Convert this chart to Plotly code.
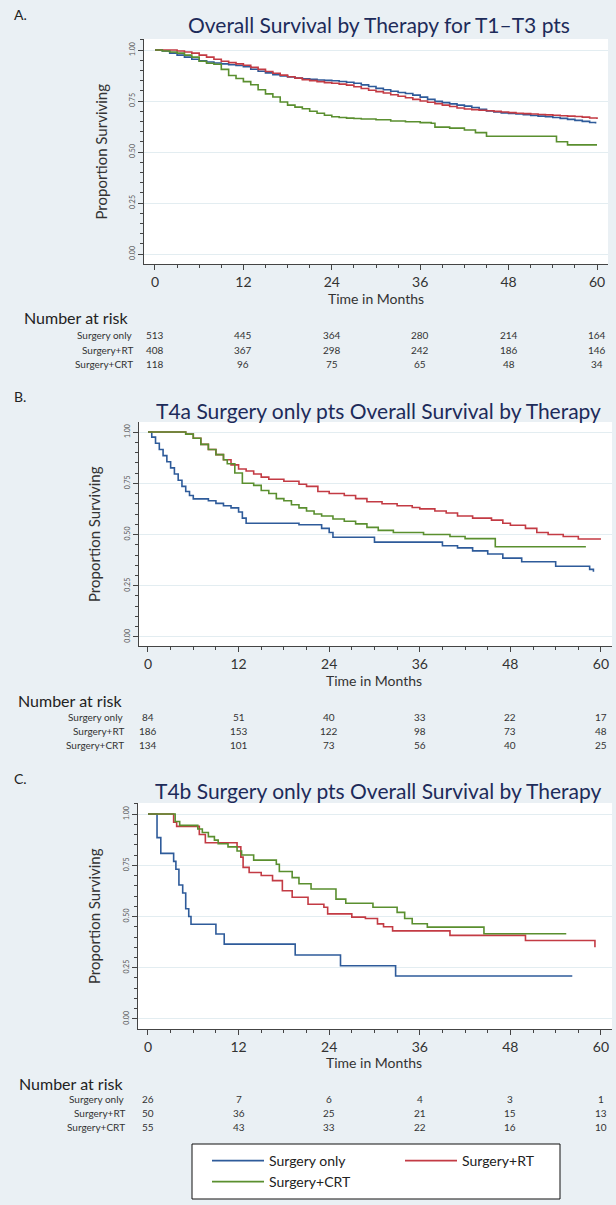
import plotly.graph_objects as go

W, H = 616, 1205

# ---------------- data ----------------
groups = ["Surgery only", "Surgery+RT", "Surgery+CRT"]
colors = ["#2e5b9a", "#c33b44", "#5a8f2f"]
risk_months = [0, 12, 24, 36, 48, 60]

# Panel A: T1-T3
A_only_t = [0, 1, 2, 3, 4, 5, 6, 7, 8, 9, 10, 11, 12, 13, 14, 15, 16, 17, 18, 19, 20, 21, 22, 23, 24, 25, 26, 27, 28, 29, 30,
            31, 32, 33, 34, 35, 36, 37, 38, 39, 40, 41, 42, 43, 44, 45, 46, 47, 48, 49, 50, 51, 52, 53, 54, 55, 56, 57, 58, 59, 59.8]
A_only_s = [1.0, 0.995, 0.985, 0.975, 0.965, 0.955, 0.947, 0.941, 0.936, 0.932, 0.928, 0.924, 0.918, 0.906, 0.896, 0.888,
            0.879, 0.873, 0.868, 0.863, 0.859, 0.856, 0.853, 0.851, 0.849, 0.846, 0.842, 0.837, 0.829, 0.821, 0.812, 0.805,
            0.798, 0.792, 0.787, 0.779, 0.769, 0.758, 0.748, 0.742, 0.736, 0.730, 0.725, 0.718, 0.709, 0.701, 0.696, 0.692,
            0.689, 0.686, 0.683, 0.679, 0.676, 0.673, 0.669, 0.665, 0.660, 0.655, 0.650, 0.645, 0.640]
A_rt_t = [0, 2, 3, 4, 5, 6, 7, 8, 9, 10, 11, 12, 13, 14, 15, 16, 17, 18, 19, 20, 21, 22, 23, 24, 25, 26, 27, 28, 29, 30,
          31, 32, 33, 34, 35, 36, 37, 38, 39, 40, 41, 42, 43, 44, 45, 46, 47, 48, 49, 50, 51, 52, 53, 54, 55, 56, 57, 58, 59, 60]
A_rt_s = [1.0, 1.0, 0.995, 0.99, 0.985, 0.975, 0.965, 0.955, 0.945, 0.938, 0.932, 0.925, 0.915, 0.905, 0.895, 0.886, 0.877,
          0.869, 0.862, 0.855, 0.850, 0.845, 0.840, 0.837, 0.833, 0.828, 0.820, 0.811, 0.803, 0.796, 0.789, 0.781, 0.773,
          0.766, 0.758, 0.750, 0.744, 0.737, 0.730, 0.723, 0.716, 0.711, 0.708, 0.705, 0.702, 0.699, 0.696, 0.693, 0.690,
          0.688, 0.686, 0.684, 0.682, 0.680, 0.678, 0.676, 0.674, 0.671, 0.667, 0.662]
A_crt_t = [0, 1, 2, 3, 4, 5, 6, 7, 8, 9, 10, 11, 12, 13, 14, 15, 16, 17, 18, 19, 20, 21, 22, 23, 24, 25, 26, 27, 28, 30, 32,
           34, 36, 37.5, 38, 40, 42, 43.5, 45, 54.5, 56, 60]
A_crt_s = [1.0, 0.995, 0.99, 0.985, 0.975, 0.965, 0.945, 0.935, 0.93, 0.905, 0.875, 0.86, 0.845, 0.83, 0.805, 0.785, 0.77,
           0.745, 0.73, 0.72, 0.712, 0.70, 0.69, 0.68, 0.673, 0.669, 0.666, 0.664, 0.662, 0.658, 0.652, 0.648, 0.644, 0.641,
           0.622, 0.617, 0.608, 0.595, 0.577, 0.55, 0.535, 0.535]

# Panel B: T4a
B_only_t = [0, 0.5, 1, 1.5, 2, 2.5, 3, 3.5, 4, 4.5, 5, 5.5, 6, 8, 9, 10, 11, 12, 12.5, 13, 19, 20, 23, 24, 24.5, 29.5, 30,
            38, 39, 41, 43, 45, 47, 49.5, 54, 58.5, 59]
B_only_s = [1.0, 0.975, 0.945, 0.915, 0.885, 0.855, 0.825, 0.795, 0.765, 0.735, 0.71, 0.69, 0.674, 0.665, 0.652, 0.64,
            0.63, 0.61, 0.58, 0.555, 0.555, 0.548, 0.53, 0.51, 0.487, 0.487, 0.463, 0.463, 0.445, 0.435, 0.42, 0.405,
            0.385, 0.367, 0.345, 0.33, 0.318]
B_rt_t = [0, 4.5, 5, 6, 7, 8, 9, 10, 11, 12, 13, 14, 15, 16, 18, 20, 21, 22.5, 24, 26, 27.5, 29, 31, 33, 35, 36, 38, 39.5,
          41, 43, 45.5, 47, 48, 50, 51.5, 53, 55, 57, 60]
B_rt_s = [1.0, 1.0, 0.99, 0.97, 0.94, 0.915, 0.89, 0.865, 0.84, 0.82, 0.81, 0.795, 0.78, 0.77, 0.76, 0.745, 0.735, 0.71,
          0.70, 0.69, 0.675, 0.66, 0.65, 0.64, 0.632, 0.625, 0.615, 0.605, 0.59, 0.58, 0.57, 0.555, 0.545, 0.53, 0.51,
          0.50, 0.49, 0.478, 0.478]
B_crt_t = [0, 4.5, 5, 6, 7, 8, 9, 10, 10.5, 11.5, 12.5, 14, 15, 16, 17, 18, 19, 20, 21, 22, 23, 24.5, 26, 27.5, 29, 30.5,
           32.5, 36.5, 40, 42, 46, 58]
B_crt_s = [1.0, 1.0, 0.99, 0.97, 0.94, 0.915, 0.89, 0.865, 0.845, 0.80, 0.75, 0.74, 0.715, 0.70, 0.675, 0.665, 0.645,
           0.63, 0.615, 0.60, 0.59, 0.576, 0.565, 0.552, 0.535, 0.52, 0.51, 0.50, 0.49, 0.48, 0.44, 0.44]

# Panel C: T4b
C_only_t = [0, 1.2, 1.7, 3.4, 3.7, 4.1, 4.6, 5.0, 5.4, 5.7, 9.0, 10.1, 19.5, 25.5, 32.8, 56.2]
C_only_s = [1.0, 0.885, 0.808, 0.769, 0.731, 0.654, 0.615, 0.538, 0.50, 0.462, 0.415, 0.365, 0.312, 0.26, 0.21, 0.21]
C_rt_t = [0, 3.4, 3.8, 6.8, 7.6, 11.8, 12.3, 12.6, 13.4, 15.0, 16.5, 17.8, 19.1, 21.2, 23.3, 23.8, 27.0, 28.8, 30.4, 31.2,
          32.4, 40.0, 50.0, 59.0, 59.2]
C_rt_s = [1.0, 0.96, 0.94, 0.90, 0.86, 0.84, 0.79, 0.74, 0.715, 0.70, 0.675, 0.626, 0.594, 0.56, 0.545, 0.513, 0.497,
          0.49, 0.464, 0.45, 0.43, 0.408, 0.383, 0.383, 0.35]
C_crt_t = [0, 3.6, 4.2, 6.6, 7.2, 8.0, 8.8, 9.3, 10.6, 11.8, 12.4, 14.0, 17.0, 17.4, 19.1, 20.0, 21.6, 24.9, 26.2, 29.8,
           33.0, 34.0, 35.0, 37.0, 44.5, 55.4]
C_crt_s = [1.0, 0.964, 0.945, 0.927, 0.91, 0.89, 0.873, 0.855, 0.84, 0.82, 0.80, 0.775, 0.755, 0.72, 0.69, 0.66, 0.634,
           0.585, 0.565, 0.545, 0.52, 0.49, 0.465, 0.448, 0.416, 0.416]

A_risk = [[513, 445, 364, 280, 214, 164], [408, 367, 298, 242, 186, 146], [118, 96, 75, 65, 48, 34]]
B_risk = [[84, 51, 40, 33, 22, 17], [186, 153, 122, 98, 73, 48], [134, 101, 73, 56, 40, 25]]
C_risk = [[26, 7, 6, 4, 3, 1], [50, 36, 25, 21, 15, 13], [55, 43, 33, 22, 16, 10]]

titles = ["Overall Survival by Therapy for T1\u2013T3 pts",
          "T4a Surgery only pts Overall Survival by Therapy",
          "T4b Surgery only pts Overall Survival by Therapy"]
letters = ["A.", "B.", "C."]

# ---------------- layout geometry (pixels) ----------------
FONT = "Lato"
BG = "#eaf0f4"
panels = [
    dict(curves=[(A_only_t, A_only_s), (A_rt_t, A_rt_s), (A_crt_t, A_crt_s)], risk=A_risk,
         left=144, right=608, top=39, bottom=264, xr=[-1.49, 61.49], yr=[-0.049, 1.054],
         title_y=24, letter=(12, 15), ytitle_x=100, xlab_y=298, nar=(22, 318), rows=[335, 350, 364], lab_r=135),
    dict(curves=[(B_only_t, B_only_s), (B_rt_t, B_rt_s), (B_crt_t, B_crt_s)], risk=B_risk,
         left=139, right=612, top=422, bottom=646, xr=[-1.19, 61.46], yr=[-0.044, 1.049],
         title_y=410, letter=(12, 397), ytitle_x=94, xlab_y=680, nar=(16, 700), rows=[717, 731, 745], lab_r=126),
    dict(curves=[(C_only_t, C_only_s), (C_rt_t, C_rt_s), (C_crt_t, C_crt_s)], risk=C_risk,
         left=138, right=612, top=803, bottom=1029, xr=[-1.32, 61.46], yr=[-0.049, 1.054],
         title_y=790, letter=(12, 778), ytitle_x=94, xlab_y=1062, nar=(17, 1083), rows=[1099, 1113, 1127], lab_r=127),
]

# legend geometry: (origin x px, row y px) per entry
legend_pos = [(207, 1161), (400, 1161), (207, 1182)]
legend_box = (192, 560, 1144, 1199)


def fx(px):
    return px / W


def fy(py):
    return 1 - py / H


fig = go.Figure()
annotations = []
shapes = []
layout_axes = {}
legend_names = ["legend", "legend2", "legend3"]

for i, p in enumerate(panels):
    k = "" if i == 0 else str(i + 1)
    xa, ya = "x" + k, "y" + k
    for g, (t, s) in enumerate(p["curves"]):
        fig.add_trace(go.Scatter(
            x=t, y=s, mode="lines", line=dict(color=colors[g], width=1.6, shape="hv"),
            name=groups[g], showlegend=(i == 2), legend=legend_names[g],
            xaxis=xa, yaxis=ya, hoverinfo="skip"))
    layout_axes["xaxis" + k] = dict(
        domain=[fx(p["left"]), fx(p["right"])], anchor=ya, range=p["xr"],
        tickmode="array", tickvals=risk_months, ticktext=[str(m) for m in risk_months],
        ticks="outside", ticklen=5, tickcolor="#444", tickwidth=1,
        minor=dict(dtick=3, tick0=0, ticks="outside", ticklen=3, tickcolor="#444", showgrid=False),
        showline=True, linecolor="#444", linewidth=1, showgrid=False, zeroline=False,
        tickfont=dict(family=FONT, size=14, color="#333"), fixedrange=True)
    layout_axes["yaxis" + k] = dict(
        domain=[fy(p["bottom"]), fy(p["top"])], anchor=xa, range=p["yr"],
        tickmode="array", tickvals=[0, 0.25, 0.5, 0.75, 1.0],
        ticktext=["0.00", "0.25", "0.50", "0.75", "1.00"], tickangle=-90,
        ticks="outside", ticklen=5, tickcolor="#444", tickwidth=1,
        minor=dict(dtick=0.05, tick0=0, ticks="outside", ticklen=3, tickcolor="#444", showgrid=False),
        showline=True, linecolor="#444", linewidth=1, showgrid=True, gridcolor="#e3edf1", gridwidth=1,
        zeroline=False, tickfont=dict(family=FONT, size=7, color="#555"), fixedrange=True)
    shapes.append(dict(type="rect", xref="paper", yref="paper", layer="below",
                       x0=fx(p["left"]), x1=fx(p["right"]), y0=fy(p["bottom"]), y1=fy(p["top"]),
                       fillcolor="white", line=dict(width=0)))
    annotations.append(dict(text=titles[i], xref="paper", yref="paper",
                            x=fx((p["left"] + p["right"]) / 2 + 3), y=fy(p["title_y"]),
                            xanchor="center", yanchor="middle", showarrow=False,
                            font=dict(family=FONT, size=21, color="#1d2b5a")))
    annotations.append(dict(text=letters[i], xref="paper", yref="paper",
                            x=fx(p["letter"][0]), y=fy(p["letter"][1]), xanchor="left", yanchor="middle",
                            showarrow=False, font=dict(family=FONT, size=14, color="#222")))
    annotations.append(dict(text="Proportion Surviving", xref="paper", yref="paper", textangle=-90,
                            x=fx(p["ytitle_x"]), y=fy((p["top"] + p["bottom"]) / 2), xanchor="center",
                            yanchor="middle", showarrow=False, font=dict(family=FONT, size=15, color="#333")))
    annotations.append(dict(text="Time in Months", xref=xa, yref="paper", x=30, y=fy(p["xlab_y"]),
                            xanchor="center", yanchor="middle", showarrow=False,
                            font=dict(family=FONT, size=14, color="#333")))
    annotations.append(dict(text="Number at risk", xref="paper", yref="paper", x=fx(p["nar"][0]),
                            y=fy(p["nar"][1]), xanchor="left", yanchor="middle", showarrow=False,
                            font=dict(family=FONT, size=16, color="#222")))
    for g in range(3):
        ry = fy(p["rows"][g])
        annotations.append(dict(text=groups[g], xref="paper", yref="paper", x=fx(p["lab_r"]), y=ry,
                                xanchor="right", yanchor="middle", showarrow=False,
                                font=dict(family=FONT, size=10, color="#333")))
        for m, n in zip(risk_months, p["risk"][g]):
            annotations.append(dict(text=str(n), xref=xa, yref="paper", x=m, y=ry,
                                    xanchor="center", yanchor="middle", showarrow=False,
                                    font=dict(family=FONT, size=10, color="#333")))

# legend frame
shapes.append(dict(type="rect", xref="paper", yref="paper", layer="below",
                   x0=fx(legend_box[0]), x1=fx(legend_box[1]), y0=fy(legend_box[3]), y1=fy(legend_box[2]),
                   fillcolor="white", line=dict(color="#111", width=1)))

legends = {}
for g, name in enumerate(legend_names):
    lx, ly = legend_pos[g]
    legends[name] = dict(orientation="h", x=fx(lx), y=fy(ly), xanchor="left", yanchor="middle",
                         bgcolor="rgba(0,0,0,0)", borderwidth=0, itemwidth=52,
                         font=dict(family=FONT, size=14, color="#222"))

fig.update_layout(
    width=W, height=H, margin=dict(l=0, r=0, t=0, b=0),
    paper_bgcolor=BG, plot_bgcolor="rgba(0,0,0,0)",
    shapes=shapes, annotations=annotations, showlegend=True,
    **legends, **layout_axes,
)

fig.write_html("out.html", config={"displayModeBar": False},
               post_script="document.body.style.margin='0px';document.body.style.overflow='hidden';")
